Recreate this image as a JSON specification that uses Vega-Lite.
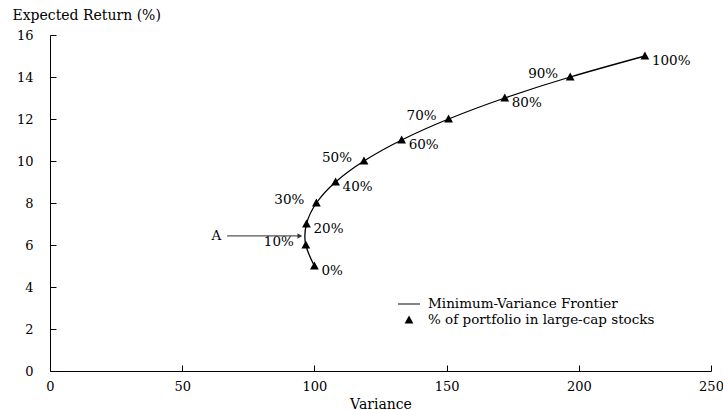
{
  "$schema": "https://vega.github.io/schema/vega-lite/v6.json",
  "width": 661,
  "height": 336,
  "autosize": {"type": "none"},
  "padding": {"left": 50, "top": 35, "right": 12, "bottom": 39},
  "background": "white",
  "config": {
    "view": {"stroke": null},
    "font": "DejaVu Serif",
    "axis": {
      "grid": false,
      "domainColor": "black",
      "tickColor": "black",
      "labelColor": "black",
      "titleColor": "black",
      "labelFont": "DejaVu Serif",
      "titleFont": "DejaVu Serif",
      "labelFontSize": 13,
      "titleFontSize": 14,
      "titleFontWeight": "normal",
      "tickSize": -6
    }
  },
  "datasets": {
    "frontier": [
      {"pct": 0, "variance": 100, "ret": 5, "label": "0%"},
      {"pct": 10, "variance": 96.75, "ret": 6, "label": "10%"},
      {"pct": 20, "variance": 97, "ret": 7, "label": "20%"},
      {"pct": 30, "variance": 100.75, "ret": 8, "label": "30%"},
      {"pct": 40, "variance": 108, "ret": 9, "label": "40%"},
      {"pct": 50, "variance": 118.75, "ret": 10, "label": "50%"},
      {"pct": 60, "variance": 133, "ret": 11, "label": "60%"},
      {"pct": 70, "variance": 150.75, "ret": 12, "label": "70%"},
      {"pct": 80, "variance": 172, "ret": 13, "label": "80%"},
      {"pct": 90, "variance": 196.75, "ret": 14, "label": "90%"},
      {"pct": 100, "variance": 225, "ret": 15, "label": "100%"}
    ],
    "annot": [
      {"x1": 67, "x2": 94.5, "ret": 6.43, "label": "A"}
    ]
  },
  "encoding": {
    "x": {
      "field": "variance", "type": "quantitative",
      "scale": {"domain": [0, 250], "nice": false},
      "axis": {"values": [0, 50, 100, 150, 200, 250], "title": "Variance", "labelPadding": 15, "titlePadding": 4, "labelFlush": false}
    },
    "y": {
      "field": "ret", "type": "quantitative",
      "scale": {"domain": [0, 16], "nice": false},
      "axis": {"values": [0, 2, 4, 6, 8, 10, 12, 14, 16], "title": "Expected Return (%)", "titleAngle": 0, "titleAlign": "left", "titleBaseline": "middle", "titleX": -38, "titleY": -20, "labelPadding": 23}
    }
  },
  "layer": [
    {
      "data": {"name": "frontier"},
      "mark": {"type": "line", "interpolate": "natural", "color": "black", "strokeWidth": 1.3},
      "encoding": {"order": {"field": "pct", "type": "quantitative"}}
    },
    {
      "data": {"name": "frontier"},
      "mark": {"type": "point", "filled": true, "color": "black", "opacity": 1, "size": 256},
      "encoding": {
        "shape": {
          "datum": "% of portfolio in large-cap stocks",
          "scale": {"domain": ["Minimum-Variance Frontier", "% of portfolio in large-cap stocks"], "range": ["M-1.375,-0.06L1.375,-0.06L1.375,0.06L-1.375,0.06Z", "M0,-0.55L0.55,0.45L-0.55,0.45Z"]},
          "legend": {
            "title": null,
            "orient": "none",
            "legendX": 350,
            "legendY": 260,
            "labelFont": "DejaVu Serif",
            "labelFontSize": 13.5,
            "labelColor": "black",
            "labelLimit": 400,
            "labelOffset": 10,
            "rowPadding": 0,
            "padding": 0,
            "symbolSize": 256,
            "symbolFillColor": "black"
          }
        }
      }
    },
    {
      "data": {"name": "frontier"},
      "transform": [{"filter": "datum.pct % 20 == 10"}],
      "mark": {"type": "text", "align": "right", "baseline": "middle", "dx": -12, "dy": -3, "fontSize": 13.5, "color": "black", "font": "DejaVu Serif"},
      "encoding": {"text": {"field": "label"}}
    },
    {
      "data": {"name": "frontier"},
      "transform": [{"filter": "datum.pct % 20 == 0"}],
      "mark": {"type": "text", "align": "left", "baseline": "middle", "dx": 7, "dy": 5, "fontSize": 13.5, "color": "black", "font": "DejaVu Serif"},
      "encoding": {"text": {"field": "label"}}
    },
    {
      "data": {"name": "annot"},
      "mark": {"type": "rule", "color": "#555555", "strokeWidth": 1.3},
      "encoding": {
        "x": {"field": "x1", "type": "quantitative"},
        "x2": {"field": "x2"},
        "y": {"field": "ret", "type": "quantitative"}
      }
    },
    {
      "data": {"name": "annot"},
      "mark": {"type": "point", "shape": "triangle-right", "filled": true, "color": "#333333", "opacity": 1, "size": 30},
      "encoding": {
        "x": {"field": "x2", "type": "quantitative"},
        "y": {"field": "ret", "type": "quantitative"}
      }
    },
    {
      "data": {"name": "annot"},
      "mark": {"type": "text", "align": "right", "baseline": "middle", "dx": -6, "fontSize": 13.5, "color": "black", "font": "DejaVu Serif"},
      "encoding": {
        "x": {"field": "x1", "type": "quantitative"},
        "y": {"field": "ret", "type": "quantitative"},
        "text": {"field": "label"}
      }
    }
  ]
}
